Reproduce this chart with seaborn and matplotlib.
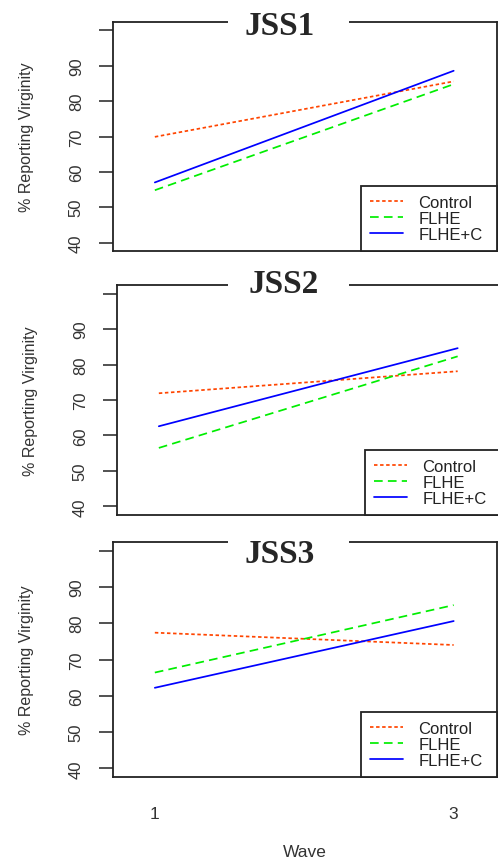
import pandas as pd
import matplotlib
matplotlib.use('Agg')
import matplotlib.pyplot as plt
from matplotlib.patches import Rectangle
import seaborn as sns

# data
waves = [1, 3]
groups = ['Control', 'FLHE', 'FLHE+C']
panels = ['JSS1', 'JSS2', 'JSS3']
jss1 = {'Control': [69.9, 85.6], 'FLHE': [54.8, 84.8], 'FLHE+C': [57.0, 88.6]}
jss2 = {'Control': [71.9, 78.1], 'FLHE': [56.5, 82.3], 'FLHE+C': [62.6, 84.6]}
jss3 = {'Control': [77.4, 74.0], 'FLHE': [66.4, 85.0], 'FLHE+C': [62.2, 80.6]}
y_ticks = [40, 50, 60, 70, 80, 90, 100]
y_ticklabels = ['40', '50', '60', '70', '80', '90', '']

palette = {'Control': 'orangered', 'FLHE': '#00ee00', 'FLHE+C': '#0000ff'}
dashes = {'Control': (2, 1.5), 'FLHE': (5, 3), 'FLHE+C': ''}

sns.set_style('white')
plt.rcParams['font.family'] = ['Liberation Sans', 'DejaVu Sans']

W, H = 498, 862
fig = plt.figure(figsize=(W / 100, H / 100), dpi=100)

# pixel boxes (left, top, right, bottom) and title baseline in axes coords
boxes = [(113, 23, 497, 252), (117, 286, 501, 516), (113, 543, 497, 778)]
title_y = [0.948, 0.970, 0.915]
leg_left = [361, 365, 361]

for i, (name, vals) in enumerate(zip(panels, [jss1, jss2, jss3])):
    l, t, r, b = boxes[i]
    ax = fig.add_axes([l / W, 1 - b / H, (r - l) / W, (b - t) / H])
    rows = []
    for g in groups:
        for w, v in zip(waves, vals[g]):
            rows.append({'Wave': w, 'pct': v, 'group': g})
    df = pd.DataFrame(rows)
    sns.lineplot(data=df, x='Wave', y='pct', hue='group', style='group',
                 palette=palette, dashes=dashes, hue_order=groups,
                 style_order=groups, linewidth=1.25, legend=False, ax=ax)

    ax.set_xlim(0.72, 3.29)
    ax.set_ylim(37.6, 102.4)
    for s in ax.spines.values():
        s.set_color('#222222')
        s.set_linewidth(1.3)

    ax.set_yticks(y_ticks)
    ax.set_yticklabels(y_ticklabels)
    ax.tick_params(axis='y', left=True, length=10, width=1.1, color='#222222',
                   pad=11, labelsize=12, labelcolor='#333333')
    plt.setp(ax.get_yticklabels(), rotation=90, va='center')
    ax.set_ylabel('% Reporting Virginity', fontsize=11.5, color='#333333')
    ax.yaxis.set_label_coords(-0.207, 0.5)

    if i == 2:
        ax.set_xticks(waves)
        ax.set_xticklabels(['1', '3'])
        ax.tick_params(axis='x', bottom=True, length=0, pad=21, labelsize=12.5,
                       labelcolor='#333333')
        ax.set_xlabel('Wave', fontsize=12.5, color='#333333')
        ax.xaxis.set_label_coords(0.5, -0.283)
    else:
        ax.set_xticks([])
        ax.set_xlabel('')

    # white gap in the top frame behind the title
    gx = (228 - l) / (r - l)
    ax.add_patch(Rectangle((gx, 0.97), 121 / (r - l), 0.06, transform=ax.transAxes,
                           fc='white', ec='none', zorder=3, clip_on=False))
    ax.text(0.434, title_y[i], name, transform=ax.transAxes, ha='center',
            va='baseline', family='Liberation Serif', weight='bold', size=24,
            zorder=4)

    x0 = (leg_left[i] - l) / (r - l)
    leg = ax.legend(ax.get_lines(), groups, loc='lower left',
                    bbox_to_anchor=(x0, 0, 1 - x0, 0.3), mode='expand',
                    borderaxespad=0, fontsize=12, handlelength=1.98,
                    handletextpad=0.9, borderpad=0.55, labelspacing=0.05,
                    fancybox=False, framealpha=1, edgecolor='#222222')
    leg.get_frame().set_linewidth(1.3)
    for txt in leg.get_texts():
        txt.set_color('#222222')

fig.savefig('out.png', dpi=100)
